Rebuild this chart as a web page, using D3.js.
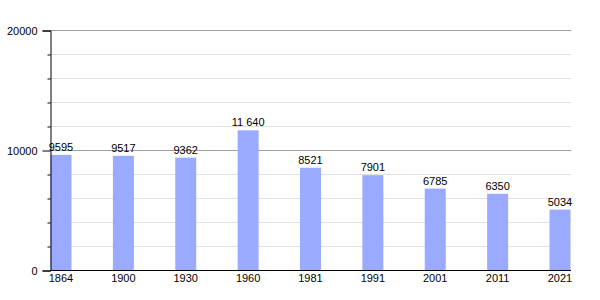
<!DOCTYPE html>
<html>
<head>
<meta charset="utf-8">
<script src="https://cdn.jsdelivr.net/npm/d3@7"></script>
<style>
  body { margin: 0; background: #fff; }
  text { font-family: "Liberation Sans", Arial, sans-serif; font-size: 11px; fill: #000; }
</style>
</head>
<body>
<svg id="chart"></svg>
<script>
// data
years = ["1864", "1900", "1930", "1960", "1981", "1991", "2001", "2011", "2021"];
population = [9595, 9517, 9362, 11640, 8521, 7901, 6785, 6350, 5034];
valueLabels = ["9595", "9517", "9362", "11 640", "8521", "7901", "6785", "6350", "5034"];
majorTicks = [0, 10000, 20000];
minorTicks = [2000, 4000, 6000, 8000, 12000, 14000, 16000, 18000];

width = 600;
height = 300;

svg = d3.select("#chart")
  .attr("width", width)
  .attr("height", height);

// scales
const xScale = d3.scalePoint()
  .domain(years)
  .range([61, 560]);

const yScale = d3.scaleLinear()
  .domain([0, 20000])
  .range([270, 30]);

const barWidth = 21;
const left = 50, right = 571;

// minor gridlines
svg.append("g")
  .selectAll("line")
  .data(minorTicks)
  .enter()
  .append("line")
  .attr("x1", left)
  .attr("x2", right)
  .attr("y1", d => yScale(d) + 0.5)
  .attr("y2", d => yScale(d) + 0.5)
  .attr("stroke", "#e0e0e0")
  .attr("stroke-width", 1);

// major gridlines
svg.append("g")
  .selectAll("line")
  .data(majorTicks.filter(d => d > 0))
  .enter()
  .append("line")
  .attr("x1", left)
  .attr("x2", right)
  .attr("y1", d => yScale(d) + 0.5)
  .attr("y2", d => yScale(d) + 0.5)
  .attr("stroke", "#a0a0a0")
  .attr("stroke-width", 1);

// bars
svg.append("g")
  .selectAll("rect")
  .data(population)
  .enter()
  .append("rect")
  .attr("x", (d, i) => xScale(years[i]) - barWidth / 2)
  .attr("y", d => yScale(d))
  .attr("width", barWidth)
  .attr("height", d => yScale(0) - yScale(d))
  .attr("fill", "#99aaff");

// value labels
svg.append("g")
  .selectAll("text")
  .data(population)
  .enter()
  .append("text")
  .attr("x", (d, i) => xScale(years[i]))
  .attr("y", d => yScale(d) - 4)
  .attr("text-anchor", "middle")
  .text((d, i) => valueLabels[i]);

// y axis (major ticks)
const yAxis = d3.axisLeft(yScale)
  .tickValues(majorTicks)
  .tickFormat(d3.format("d"))
  .tickSize(8)
  .tickPadding(5);

const yAxisG = svg.append("g")
  .attr("transform", `translate(${left + 0.5}, 0.5)`)
  .call(yAxis);
yAxisG.select(".domain").attr("stroke", "#000");
yAxisG.selectAll(".tick line").attr("stroke", "#000");
yAxisG.selectAll(".tick text")
  .style("font-family", "'Liberation Sans', Arial, sans-serif")
  .style("font-size", "11px")
  .attr("fill", "#000");

// y axis minor ticks
svg.append("g")
  .attr("transform", `translate(${left + 0.5}, 0.5)`)
  .call(d3.axisLeft(yScale).tickValues(minorTicks).tickSize(3).tickFormat(""))
  .call(g => g.select(".domain").remove())
  .selectAll(".tick line").attr("stroke", "#000");

// x axis line
svg.append("line")
  .attr("x1", left)
  .attr("x2", right)
  .attr("y1", yScale(0) + 0.5)
  .attr("y2", yScale(0) + 0.5)
  .attr("stroke", "#000");

// x labels
svg.append("g")
  .selectAll("text")
  .data(years)
  .enter()
  .append("text")
  .attr("x", d => xScale(d))
  .attr("y", yScale(0) + 12)
  .attr("text-anchor", "middle")
  .text(d => d);
</script>
</body>
</html>
